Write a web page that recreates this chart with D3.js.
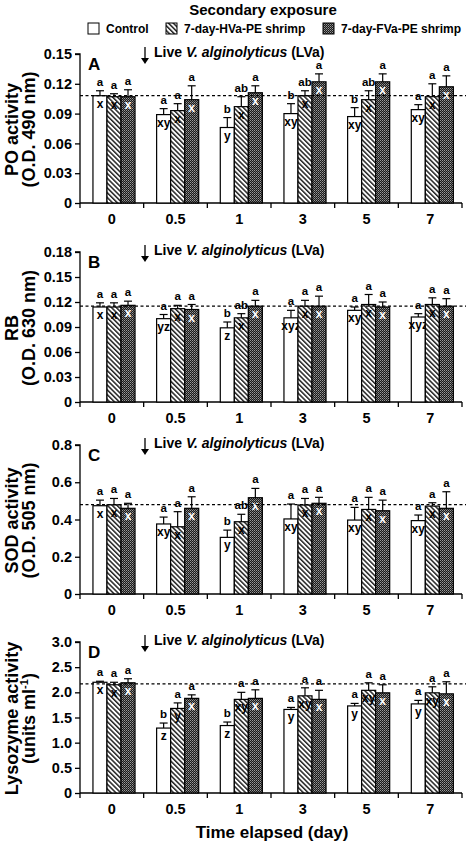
<!DOCTYPE html>
<html><head><meta charset="utf-8">
<script src="https://cdn.jsdelivr.net/npm/d3@7"></script>
<style>body{margin:0;background:#fff}svg{display:block;font-family:Arial,"Liberation Sans",sans-serif;font-weight:bold}</style>
</head><body>
<script>
const categories = ["0","0.5","1","3","5","7"];
const series = ["Control","7-day-HVa-PE shrimp","7-day-FVa-PE shrimp"];

// Panel A: PO activity
const poMean = [[0.108,0.089,0.076,0.090,0.087,0.094],[0.107,0.093,0.097,0.108,0.104,0.107],[0.107,0.104,0.111,0.122,0.122,0.117]];
const poErr  = [[0.005,0.006,0.010,0.010,0.009,0.005],[0.003,0.007,0.010,0.005,0.009,0.013],[0.007,0.014,0.007,0.008,0.008,0.011]];
const poTop  = [["a","a","b","b","b","a"],["a","a","ab","ab","ab","a"],["a","a","a","a","a","a"]];
const poIn   = [["x","xy","y","xy","xy","xy"],["x","x","x","x","x","x"],["x","x","x","x","x","x"]];
const poTicks = [0,0.03,0.06,0.09,0.12,0.15];

// Panel B: RB
const rbMean = [[0.114,0.100,0.089,0.101,0.110,0.102],[0.114,0.112,0.101,0.115,0.117,0.117],[0.116,0.111,0.115,0.115,0.114,0.115]];
const rbErr  = [[0.005,0.005,0.007,0.009,0.004,0.004],[0.005,0.004,0.005,0.007,0.012,0.008],[0.005,0.006,0.007,0.012,0.006,0.009]];
const rbTop  = [["a","a","b","a","a","a"],["a","a","ab","a","a","a"],["a","a","a","a","a","a"]];
const rbIn   = [["x","yz","z","xyz","xy","xyz"],["x","x","x","x","x","x"],["x","x","x","x","x","x"]];
const rbTicks = [0,0.03,0.06,0.09,0.12,0.15,0.18];

// Panel C: SOD activity
const sodMean = [[0.474,0.376,0.304,0.403,0.397,0.394],[0.479,0.361,0.388,0.478,0.454,0.472],[0.460,0.460,0.517,0.487,0.447,0.460]];
const sodErr  = [[0.030,0.037,0.039,0.080,0.068,0.030],[0.034,0.081,0.040,0.035,0.065,0.018],[0.027,0.062,0.050,0.032,0.057,0.089]];
const sodTop  = [["a","a","b","a","a","a"],["a","a","ab","a","a","a"],["a","a","a","a","a","a"]];
const sodIn   = [["x","xy","y","xy","xy","xy"],["x","x","x","x","x","x"],["x","x","x","x","x","x"]];
const sodTicks = [0,0.2,0.4,0.6,0.8];

// Panel D: Lysozyme activity
const lysMean = [[2.20,1.29,1.34,1.66,1.73,1.77],[2.15,1.68,1.86,1.93,2.04,1.99],[2.19,1.88,1.88,1.86,1.99,1.97]];
const lysErr  = [[0.02,0.10,0.07,0.04,0.05,0.07],[0.05,0.11,0.14,0.16,0.15,0.12],[0.08,0.07,0.17,0.18,0.16,0.24]];
const lysTop  = [["a","b","b","a","a","a"],["a","a","a","a","a","a"],["a","a","a","a","a","a"]];
const lysIn   = [["x","z","z","y","y","y"],["x","y","xy","xy","xy","xy"],["x","x","x","x","x","x"]];
const lysTicks = [0,0.5,1.0,1.5,2.0,2.5,3.0];

const baselines = [0.108, 0.115, 0.48, 2.17];

const panels = [
  {letter:"A", t1:"PO activity", t2:"(O.D. 490 nm)", mean:poMean, err:poErr, top:poTop, ins:poIn, ticks:poTicks, max:0.15, fmt:v=>v===0?"0":d3.format(".2f")(v), y0:203, y1:54, base:baselines[0]},
  {letter:"B", t1:"RB", t2:"(O.D. 630 nm)", mean:rbMean, err:rbErr, top:rbTop, ins:rbIn, ticks:rbTicks, max:0.18, fmt:v=>v===0?"0":d3.format(".2f")(v), y0:402, y1:252, base:baselines[1]},
  {letter:"C", t1:"SOD activity", t2:"(O.D. 505 nm)", mean:sodMean, err:sodErr, top:sodTop, ins:sodIn, ticks:sodTicks, max:0.8, fmt:v=>v===0?"0":d3.format(".1f")(v), y0:594, y1:445, base:baselines[2]},
  {letter:"D", t1:"Lysozyme activity", t2:null, mean:lysMean, err:lysErr, top:lysTop, ins:lysIn, ticks:lysTicks, max:3.0, fmt:v=>v===0?"0":d3.format(".1f")(v), y0:793, y1:642, base:baselines[3]}
];

const W=474,H=843, xL=80, xR=462;
const svg = d3.select("body").append("svg").attr("width",W).attr("height",H);
const defs = svg.append("defs");
const p1 = defs.append("pattern").attr("id","hva").attr("patternUnits","userSpaceOnUse").attr("width",3.4).attr("height",3.4).attr("patternTransform","rotate(-45)");
p1.append("rect").attr("width",3.4).attr("height",3.4).attr("fill","#fff");
p1.append("rect").attr("width",1.5).attr("height",3.4).attr("fill","#222");
const p2 = defs.append("pattern").attr("id","fva").attr("patternUnits","userSpaceOnUse").attr("width",2).attr("height",2);
p2.append("rect").attr("width",2).attr("height",2).attr("fill","#1a1a1a");
p2.append("rect").attr("width",1).attr("height",1).attr("fill","#9a9a9a");
p2.append("rect").attr("x",1).attr("y",1).attr("width",1).attr("height",1).attr("fill","#6a6a6a");
const fills = ["#fff","url(#hva)","url(#fva)"];

// Legend
svg.append("text").attr("x",263).attr("y",15).attr("text-anchor","middle").attr("font-size",15).text("Secondary exposure");
const legX = [88,166,323];
series.forEach((s,i)=>{
  svg.append("rect").attr("x",legX[i]).attr("y",23).attr("width",11).attr("height",11).attr("fill",fills[i]).attr("stroke","#000").attr("stroke-width",1);
  svg.append("text").attr("x",legX[i]+18).attr("y",33).attr("font-size",12).text(s);
});

const xg = d3.scaleBand().domain(categories).range([xL,xR]).paddingInner(0).paddingOuter(0);
const xs = d3.scaleBand().domain(d3.range(3)).range([0,xg.bandwidth()]).paddingInner(0).paddingOuter(0.77).align(0.6);

panels.forEach(p=>{
  const y = d3.scaleLinear().domain([0,p.max]).range([p.y0,p.y1]);
  const g = svg.append("g");
  const ya = d3.axisLeft(y).tickValues(p.ticks).tickFormat(p.fmt).tickSize(5).tickPadding(3);
  const yg = g.append("g").attr("transform",`translate(${xL},0)`).call(ya);
  yg.select(".domain").attr("stroke","#000").attr("stroke-width",1.3).attr("d",`M-5,${p.y1}H0V${p.y0}`);
  yg.selectAll(".tick line").attr("stroke-width",1.3);
  yg.selectAll("text").attr("font-size",14.5).attr("font-weight","bold").attr("font-family","Arial, 'Liberation Sans', sans-serif").attr("fill","#000");
  g.append("line").attr("x1",xL).attr("x2",xR).attr("y1",p.y0).attr("y2",p.y0).attr("stroke","#000").attr("stroke-width",1.3);
  const bounds = categories.map(c=>xg(c)).concat([xR]);
  g.selectAll(".xt").data(bounds).join("line").attr("x1",d=>d).attr("x2",d=>d).attr("y1",p.y0).attr("y2",p.y0+5).attr("stroke","#000").attr("stroke-width",1.3);
  g.selectAll(".xl").data(categories).join("text").attr("x",d=>xg(d)+xg.bandwidth()/2).attr("y",p.y0+21).attr("text-anchor","middle").attr("font-size",14.5).text(d=>d);
  series.forEach((s,si)=>{
    categories.forEach((c,ci)=>{
      const m = p.mean[si][ci], e = p.err[si][ci];
      const bx = xg(c)+xs(si), bw = xs.bandwidth(), cx = bx+bw/2;
      g.append("rect").attr("x",bx).attr("y",y(m)).attr("width",bw).attr("height",p.y0-y(m)).attr("fill",fills[si]).attr("stroke","#000").attr("stroke-width",1.2);
      g.append("line").attr("x1",cx).attr("x2",cx).attr("y1",y(m)).attr("y2",y(m+e)).attr("stroke","#000").attr("stroke-width",1.2);
      g.append("line").attr("x1",cx-4).attr("x2",cx+4).attr("y1",y(m+e)).attr("y2",y(m+e)).attr("stroke","#000").attr("stroke-width",1.2);
      g.append("text").attr("x",cx).attr("y",y(m+e)-5).attr("text-anchor","middle").attr("font-size",11.5).text(p.top[si][ci]);
      g.append("text").attr("x",cx).attr("y",y(m)+12).attr("text-anchor","middle").attr("font-size",12).attr("fill",si===2?"#fff":"#000").text(p.ins[si][ci]);
    });
  });
  g.append("line").attr("x1",xL).attr("x2",466).attr("y1",y(p.base)).attr("y2",y(p.base)).attr("stroke","#000").attr("stroke-width",1.3).attr("stroke-dasharray","3,2.5");
  g.append("text").attr("x",88).attr("y",p.y1+16).attr("font-size",17).text(p.letter);
  g.append("line").attr("x1",145).attr("x2",145).attr("y1",p.y1-7).attr("y2",p.y1+6).attr("stroke","#000").attr("stroke-width",1.3);
  g.append("path").attr("d",`M141,${p.y1+4}L145,${p.y1+10}L149,${p.y1+4}Z`).attr("fill","#000");
  const at = g.append("text").attr("x",154).attr("y",p.y1+3).attr("font-size",14);
  at.append("tspan").text("Live ");
  at.append("tspan").attr("font-style","italic").text("V. alginolyticus");
  at.append("tspan").text(" (LVa)");
  const cy = (p.y0+p.y1)/2 + 1;
  g.append("text").attr("transform",`translate(18,${cy}) rotate(-90)`).attr("text-anchor","middle").attr("font-size",18).text(p.t1);
  const t2 = g.append("text").attr("transform",`translate(35,${cy}) rotate(-90)`).attr("text-anchor","middle").attr("font-size",18);
  if(p.t2){ t2.text(p.t2); }
  else { t2.append("tspan").text("(units ml"); t2.append("tspan").attr("font-size",11).attr("dy",-7).text("-1"); t2.append("tspan").attr("dy",7).text(")"); }
});

svg.append("text").attr("x",272).attr("y",838).attr("text-anchor","middle").attr("font-size",17).text("Time elapsed (day)");
</script>
</body></html>
